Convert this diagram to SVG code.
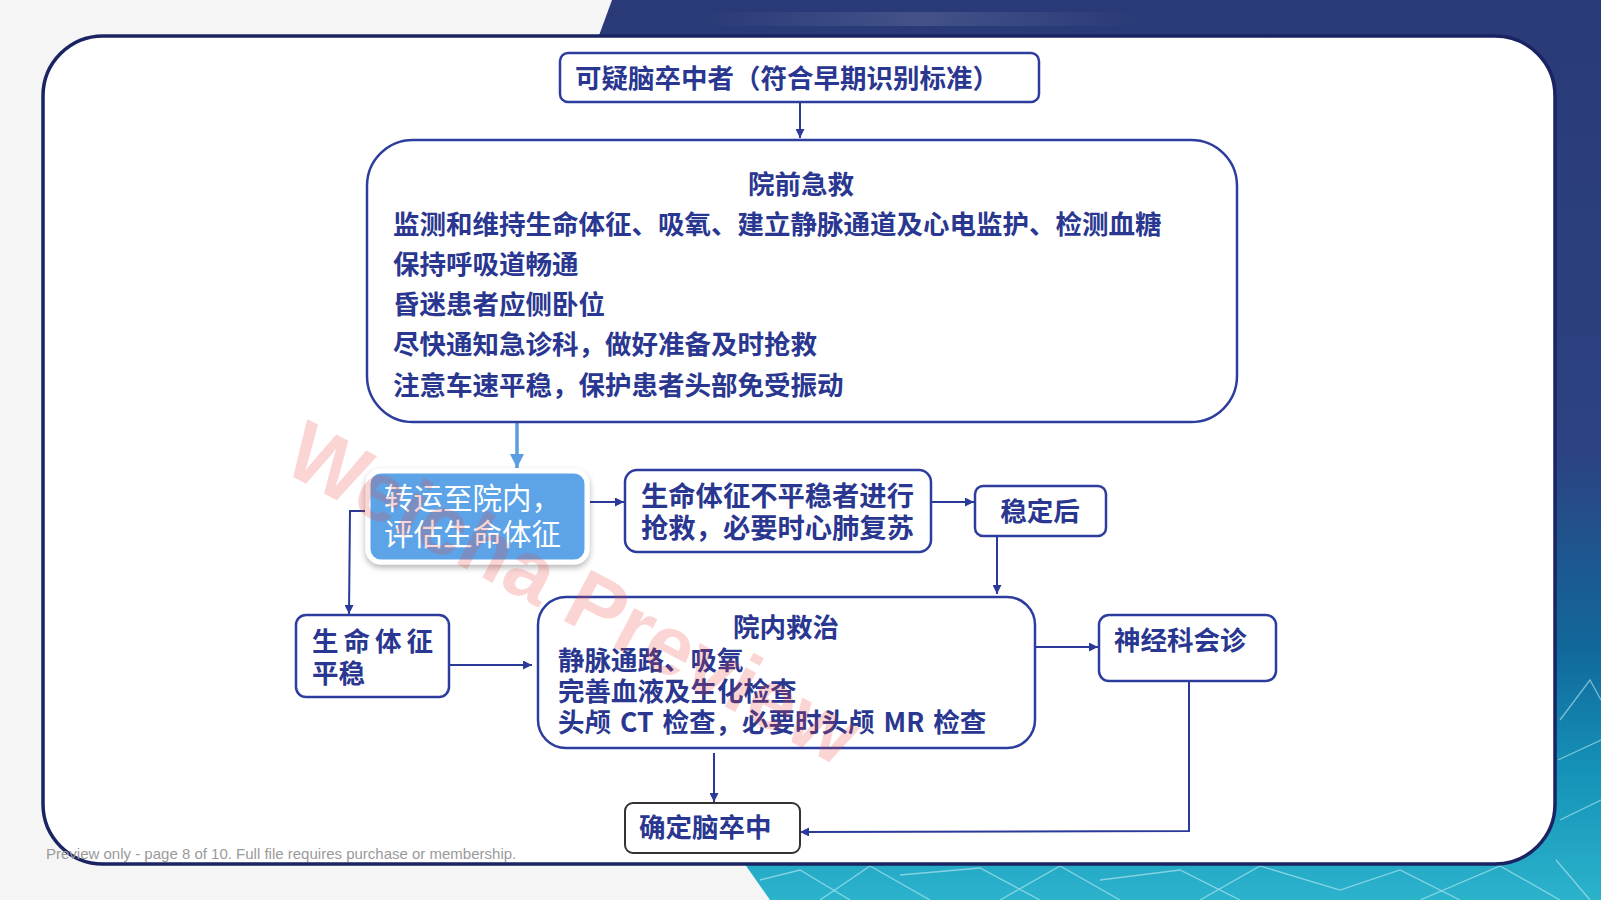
<svg xmlns="http://www.w3.org/2000/svg" width="1601" height="900" viewBox="0 0 1601 900">
  <defs>
    <linearGradient id="bgGrad" x1="0" y1="0" x2="0" y2="1">
      <stop offset="0" stop-color="#2a3a78"/>
      <stop offset="0.5" stop-color="#2c4282"/>
      <stop offset="0.72" stop-color="#11689a"/>
      <stop offset="0.86" stop-color="#1593b8"/>
      <stop offset="1" stop-color="#2cb3cc"/>
    </linearGradient>
    <linearGradient id="streak" x1="0" y1="0" x2="1" y2="0">
      <stop offset="0" stop-color="#ffffff" stop-opacity="0"/>
      <stop offset="0.5" stop-color="#ffffff" stop-opacity="0.12"/>
      <stop offset="1" stop-color="#ffffff" stop-opacity="0"/>
    </linearGradient>
    <filter id="shadow" x="-20%" y="-20%" width="140%" height="150%">
      <feDropShadow dx="0" dy="3" stdDeviation="3" flood-color="#000" flood-opacity="0.3"/>
    </filter>
    <marker id="arr" viewBox="0 0 10 10" refX="10" refY="5" markerWidth="9" markerHeight="9" markerUnits="userSpaceOnUse" orient="auto">
      <path d="M0,0 L10,5 L0,10 Z" fill="#2b3a98"/>
    </marker>
    <marker id="arrL" viewBox="0 0 10 10" refX="10" refY="5" markerWidth="14" markerHeight="14" markerUnits="userSpaceOnUse" orient="auto">
      <path d="M0,0 L10,5 L0,10 Z" fill="#5b9fe0"/>
    </marker>
    <style>
      .box { fill: #ffffff; stroke: #2d3d9e; stroke-width: 2.5; }
      .t { font-family: "Noto Sans CJK SC", "Noto Sans", sans-serif; font-weight: 700; fill: #2a3790; }
      .tw { font-family: "Noto Sans CJK SC", "Noto Sans", sans-serif; font-weight: 400; fill: #ffffff; }
      .c { fill: none; stroke: #2b3a98; stroke-width: 2; }
      .net { stroke: #d0f4fc; stroke-width: 1.3; opacity: 0.55; fill: none; }
    </style>
  </defs>

  <!-- background -->
  <rect x="0" y="0" width="1601" height="900" fill="#f5f5f5"/>
  <polygon points="612,0 1601,0 1601,900 770,900 735,850 590,60" fill="url(#bgGrad)"/>
  <rect x="700" y="12" width="440" height="14" fill="url(#streak)"/>
  <g class="net">
    <path d="M760,880 L800,870 L850,900 M820,900 L870,866 L930,900 M900,875 L980,868 L1040,900 M1000,900 L1060,866 L1120,900 M1100,880 L1180,870 L1240,900 M1200,900 L1260,866 L1340,890 L1400,870 L1460,900 M1420,900 L1500,866 L1560,900"/>
    <path d="M1560,720 L1590,680 L1601,700 M1558,760 L1601,740 M1560,820 L1601,800 M1556,860 L1590,900"/>
  </g>

  <!-- card -->
  <rect x="43" y="36" width="1512" height="828" rx="60" fill="#ffffff" stroke="#1b2462" stroke-width="3.5"/>

  <!-- connectors -->
  <g id="connectors">
    <line class="c" x1="800" y1="102" x2="800" y2="138" stroke-width="1.5" marker-end="url(#arr)"/>
    <line x1="517" y1="422" x2="517" y2="468" stroke="#5b9fe0" stroke-width="3.5" marker-end="url(#arrL)"/>
    <line class="c" x1="590" y1="502" x2="624" y2="502" stroke-width="2.5" marker-end="url(#arr)"/>
    <line class="c" x1="931" y1="502" x2="974" y2="502" stroke-width="2.5" marker-end="url(#arr)"/>
    <line class="c" x1="997" y1="536" x2="997" y2="594" marker-end="url(#arr)"/>
    <polyline class="c" points="365,511 350,511 349,614" marker-end="url(#arr)"/>
    <line class="c" x1="449" y1="665" x2="532" y2="665" stroke-width="2.5" marker-end="url(#arr)"/>
    <line class="c" x1="1035" y1="647" x2="1098" y2="647" stroke-width="2.5" marker-end="url(#arr)"/>
    <line class="c" x1="714" y1="753" x2="714" y2="802" marker-end="url(#arr)"/>
    <polyline class="c" points="1189,681 1189,831 800,832" marker-end="url(#arr)"/>
  </g>

  <!-- nodes -->
  <g id="node-suspect">
    <rect class="box" x="560" y="53" width="479" height="49" rx="8"/>
    <text class="t" x="575" y="88" font-size="26.5">可疑脑卒中者（符合早期识别标准）</text>
  </g>

  <g id="node-prehospital">
    <rect class="box" x="367" y="140" width="870" height="282" rx="46"/>
    <text class="t" x="801" y="194" font-size="26.5" text-anchor="middle">院前急救</text>
    <text class="t" x="393" y="234" font-size="26.5">监测和维持生命体征、吸氧、建立静脉通道及心电监护、检测血糖</text>
    <text class="t" x="393" y="274" font-size="26.5">保持呼吸道畅通</text>
    <text class="t" x="393" y="314" font-size="26.5">昏迷患者应侧卧位</text>
    <text class="t" x="393" y="354" font-size="26.5">尽快通知急诊科，做好准备及时抢救</text>
    <text class="t" x="393" y="395" font-size="26.5">注意车速平稳，保护患者头部免受振动</text>
  </g>

  <g id="node-transfer">
    <rect x="368" y="471" width="219" height="91" rx="13" fill="#5ba4e7" stroke="#ffffff" stroke-width="5" filter="url(#shadow)"/>
    <text class="tw" x="384" y="509" font-size="29.5">转运至院内，</text>
    <text class="tw" x="384" y="545" font-size="29.5">评估生命体征</text>
  </g>

  <g id="node-unstable">
    <rect class="box" x="625" y="470" width="306" height="82" rx="12"/>
    <text class="t" x="641" y="506" font-size="27.3">生命体征不平稳者进行</text>
    <text class="t" x="641" y="538" font-size="27.3">抢救，必要时心肺复苏</text>
  </g>

  <g id="node-stable-after">
    <rect class="box" x="975" y="486" width="131" height="50" rx="8"/>
    <text class="t" x="1040" y="521" font-size="26.5" text-anchor="middle">稳定后</text>
  </g>

  <g id="node-stable">
    <rect class="box" x="296" y="615" width="153" height="82" rx="10"/>
    <text class="t" x="312" y="651" font-size="26.5" letter-spacing="5">生命体征</text>
    <text class="t" x="312" y="683" font-size="26.5">平稳</text>
  </g>

  <g id="node-inhospital">
    <rect class="box" x="538" y="597" width="497" height="151" rx="28"/>
    <text class="t" x="786" y="637" font-size="26.5" text-anchor="middle">院内救治</text>
    <text class="t" x="558" y="670" font-size="26.5">静脉通路、吸氧</text>
    <text class="t" x="558" y="701" font-size="26.5">完善血液及生化检查</text>
    <text class="t" x="558" y="732" font-size="26.5" word-spacing="3">头颅 CT 检查，必要时头颅 MR 检查</text>
  </g>

  <g id="node-neuro">
    <rect class="box" x="1099" y="615" width="177" height="66" rx="10"/>
    <text class="t" x="1114" y="650" font-size="26.5">神经科会诊</text>
  </g>

  <g id="node-confirm">
    <rect x="625" y="803" width="175" height="50" rx="8" fill="#ffffff" stroke="#333333" stroke-width="2"/>
    <text class="t" x="639" y="837" font-size="26.5">确定脑卒中</text>
  </g>

  <!-- watermark & footer -->
  <text x="280" y="470" transform="rotate(28 280 470)" font-family="Liberation Sans, Arial, sans-serif" font-weight="700" font-size="84" fill="#e8413c" fill-opacity="0.22">Weicha Preview</text>
  <text x="46" y="859" font-family="Liberation Sans, Arial, sans-serif" font-size="15" fill="#9a9a9a">Preview only - page 8 of 10. Full file requires purchase or membership.</text>
</svg>
